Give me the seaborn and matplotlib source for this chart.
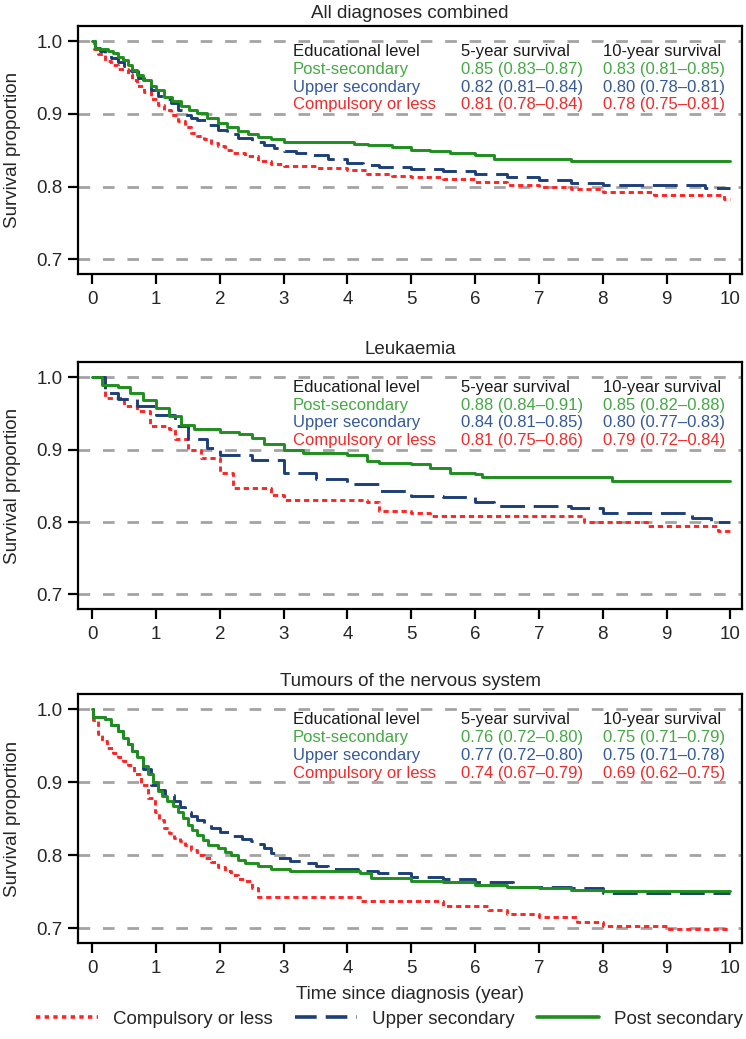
import matplotlib
matplotlib.use("Agg")
import matplotlib.pyplot as plt
from matplotlib.lines import Line2D
import seaborn as sns
import pandas as pd

# Kaplan-Meier step curves (time in years, survival proportion)
all_post_t = [0, 0.05, 0.1, 0.25, 0.33, 0.4, 0.48, 0.56, 0.63, 0.71, 0.8, 0.92, 1.0, 1.13, 1.25, 1.39, 1.52, 1.65, 1.8, 1.97, 2.12, 2.28, 2.45, 2.6, 2.8, 3.01, 3.53, 4.1, 4.32, 4.7, 5.0, 5.3, 5.6, 6.0, 6.3, 7.5, 10.0]
all_post_s = [1.0, 0.991, 0.989, 0.987, 0.984, 0.979, 0.974, 0.968, 0.961, 0.954, 0.947, 0.938, 0.933, 0.924, 0.918, 0.911, 0.906, 0.901, 0.895, 0.888, 0.882, 0.876, 0.872, 0.869, 0.865, 0.862, 0.861, 0.859, 0.857, 0.854, 0.851, 0.849, 0.847, 0.844, 0.838, 0.835, 0.835]
all_upper_t = [0, 0.04, 0.12, 0.2, 0.3, 0.4, 0.5, 0.61, 0.72, 0.82, 0.92, 1.03, 1.14, 1.24, 1.35, 1.45, 1.55, 1.65, 1.8, 1.97, 2.12, 2.28, 2.5, 2.7, 2.85, 3.01, 3.2, 3.43, 3.7, 4.0, 4.25, 4.5, 5.0, 5.5, 6.0, 6.5, 7.0, 7.5, 8.0, 9.6, 10.0]
all_upper_s = [1.0, 0.991, 0.987, 0.982, 0.977, 0.971, 0.966, 0.959, 0.95, 0.941, 0.933, 0.925, 0.92, 0.915, 0.906, 0.899, 0.895, 0.892, 0.885, 0.878, 0.872, 0.867, 0.862, 0.858, 0.853, 0.849, 0.846, 0.843, 0.838, 0.833, 0.83, 0.827, 0.825, 0.822, 0.818, 0.813, 0.809, 0.805, 0.803, 0.798, 0.798]
all_comp_t = [0, 0.03, 0.1, 0.2, 0.3, 0.4, 0.56, 0.63, 0.71, 0.82, 0.92, 1.03, 1.13, 1.24, 1.34, 1.45, 1.55, 1.65, 1.76, 1.87, 1.97, 2.08, 2.18, 2.39, 2.6, 2.8, 3.0, 3.5, 4.0, 4.3, 4.7, 5.0, 5.5, 6.0, 6.5, 7.0, 7.5, 8.0, 8.8, 9.9, 10.0]
all_comp_s = [1.0, 0.989, 0.982, 0.973, 0.967, 0.962, 0.955, 0.947, 0.939, 0.93, 0.921, 0.913, 0.905, 0.898, 0.891, 0.882, 0.874, 0.87, 0.865, 0.86, 0.856, 0.851, 0.847, 0.842, 0.836, 0.831, 0.828, 0.826, 0.823, 0.818, 0.815, 0.813, 0.811, 0.806, 0.803, 0.8, 0.797, 0.793, 0.789, 0.783, 0.783]

leuk_post_t = [0, 0.15, 0.4, 0.6, 0.8, 1.0, 1.2, 1.4, 1.6, 2.0, 2.3, 2.5, 2.7, 3.0, 3.3, 4.0, 4.3, 4.5, 5.0, 5.3, 5.6, 6.0, 6.1, 8.15, 10.0]
leuk_post_s = [1.0, 0.989, 0.987, 0.978, 0.969, 0.957, 0.946, 0.934, 0.929, 0.925, 0.921, 0.916, 0.908, 0.9, 0.895, 0.892, 0.884, 0.882, 0.88, 0.874, 0.868, 0.866, 0.862, 0.857, 0.856]
leuk_upper_t = [0, 0.2, 0.4, 0.7, 1.0, 1.3, 1.5, 1.8, 2.0, 2.5, 3.0, 3.5, 4.0, 4.5, 5.0, 5.5, 6.0, 6.3, 7.5, 8.0, 9.0, 9.4, 9.7, 10.0]
leuk_upper_s = [1.0, 0.978, 0.97, 0.96, 0.948, 0.932, 0.914, 0.902, 0.893, 0.886, 0.868, 0.859, 0.852, 0.843, 0.836, 0.834, 0.827, 0.822, 0.82, 0.813, 0.813, 0.806, 0.8, 0.8]
leuk_comp_t = [0, 0.2, 0.5, 0.7, 0.9, 1.2, 1.3, 1.5, 1.7, 2.0, 2.2, 2.8, 3.0, 4.3, 4.5, 5.0, 5.3, 7.7, 8.7, 9.8, 10.0]
leuk_comp_s = [1.0, 0.971, 0.96, 0.953, 0.932, 0.928, 0.914, 0.9, 0.889, 0.868, 0.847, 0.838, 0.831, 0.828, 0.815, 0.812, 0.809, 0.8, 0.795, 0.788, 0.786]

cns_post_t = [0, 0.02, 0.2, 0.3, 0.4, 0.48, 0.56, 0.63, 0.71, 0.79, 0.87, 0.95, 1.03, 1.1, 1.18, 1.26, 1.34, 1.42, 1.5, 1.57, 1.65, 1.73, 1.81, 1.97, 2.08, 2.18, 2.28, 2.39, 2.6, 2.81, 3.1, 3.43, 4.2, 4.37, 5.0, 5.5, 6.0, 6.5, 7.0, 7.5, 8.0, 10.0]
cns_post_s = [1.0, 0.989, 0.987, 0.979, 0.97, 0.961, 0.952, 0.943, 0.934, 0.922, 0.911, 0.9, 0.888, 0.881, 0.874, 0.867, 0.86, 0.851, 0.842, 0.835, 0.828, 0.821, 0.814, 0.81, 0.805, 0.8, 0.794, 0.789, 0.785, 0.782, 0.779, 0.778, 0.776, 0.769, 0.765, 0.763, 0.759, 0.756, 0.755, 0.753, 0.751, 0.751]
cns_upper_t = [0, 0.02, 0.2, 0.3, 0.4, 0.48, 0.56, 0.63, 0.71, 0.8, 0.92, 1.03, 1.15, 1.29, 1.37, 1.45, 1.55, 1.65, 1.75, 1.86, 2.0, 2.18, 2.35, 2.49, 2.6, 2.7, 2.8, 2.91, 3.1, 3.27, 3.5, 3.69, 4.16, 4.48, 5.0, 5.5, 6.0, 6.6, 7.5, 8.0, 10.0]
cns_upper_s = [1.0, 0.989, 0.987, 0.979, 0.97, 0.961, 0.952, 0.943, 0.932, 0.918, 0.897, 0.889, 0.882, 0.874, 0.866, 0.86, 0.854, 0.849, 0.843, 0.837, 0.832, 0.826, 0.822, 0.819, 0.815, 0.81, 0.803, 0.796, 0.792, 0.789, 0.785, 0.782, 0.778, 0.776, 0.77, 0.767, 0.764, 0.757, 0.755, 0.749, 0.749]
cns_comp_t = [0, 0.02, 0.09, 0.16, 0.24, 0.32, 0.4, 0.48, 0.56, 0.66, 0.77, 0.87, 0.98, 1.05, 1.13, 1.21, 1.29, 1.37, 1.45, 1.55, 1.65, 1.76, 1.86, 1.97, 2.08, 2.18, 2.28, 2.39, 2.5, 2.6, 4.2, 5.5, 6.2, 6.5, 7.0, 7.6, 8.0, 9.0, 10.0]
cns_comp_s = [1.0, 0.986, 0.966, 0.956, 0.947, 0.94, 0.934, 0.929, 0.924, 0.911, 0.897, 0.879, 0.86, 0.848, 0.837, 0.83, 0.824, 0.819, 0.814, 0.807, 0.8, 0.796, 0.791, 0.784, 0.778, 0.773, 0.768, 0.765, 0.755, 0.743, 0.737, 0.731, 0.725, 0.72, 0.716, 0.709, 0.703, 0.699, 0.698]

panel_titles = ["All diagnoses combined", "Leukaemia", "Tumours of the nervous system"]
groups = ["Post-secondary", "Upper secondary", "Compulsory or less"]
legend_labels = ["Compulsory or less", "Upper secondary", "Post secondary"]
surv5 = [
    ["0.85 (0.83\u20130.87)", "0.82 (0.81\u20130.84)", "0.81 (0.78\u20130.84)"],
    ["0.88 (0.84\u20130.91)", "0.84 (0.81\u20130.85)", "0.81 (0.75\u20130.86)"],
    ["0.76 (0.72\u20130.80)", "0.77 (0.72\u20130.80)", "0.74 (0.67\u20130.79)"],
]
surv10 = [
    ["0.83 (0.81\u20130.85)", "0.80 (0.78\u20130.81)", "0.78 (0.75\u20130.81)"],
    ["0.85 (0.82\u20130.88)", "0.80 (0.77\u20130.83)", "0.79 (0.72\u20130.84)"],
    ["0.75 (0.71\u20130.79)", "0.75 (0.71\u20130.78)", "0.69 (0.62\u20130.75)"],
]
x_ticks = list(range(0, 11))
y_ticks = [0.7, 0.8, 0.9, 1.0]

curves = [
    [(all_comp_t, all_comp_s), (all_upper_t, all_upper_s), (all_post_t, all_post_s)],
    [(leuk_comp_t, leuk_comp_s), (leuk_upper_t, leuk_upper_s), (leuk_post_t, leuk_post_s)],
    [(cns_comp_t, cns_comp_s), (cns_upper_t, cns_upper_s), (cns_post_t, cns_post_s)],
]

line_colors = ["#ff2424", "#1d3f78", "#1e8f1e"]
line_styles = [(0, (1.8, 1.3)), (0, (8.5, 3.0)), "-"]
text_colors = ["#45a845", "#34599a", "#f02a2a"]

sns.set_style("white")
plt.rcParams["font.family"] = ["Liberation Sans", "DejaVu Sans"]

fig = plt.figure(figsize=(7.46, 10.39), dpi=100)
axes_rects = [
    [0.1046, 0.7363, 0.890, 0.2387],
    [0.1046, 0.4139, 0.890, 0.2377],
    [0.1046, 0.0924, 0.890, 0.2397],
]

for i, rect in enumerate(axes_rects):
    ax = fig.add_axes(rect)
    ax.set_xlim(-0.22, 10.18)
    ax.set_ylim(0.68, 1.021)
    ax.set_yticks(y_ticks)
    ax.set_yticklabels([f"{v:.1f}" for v in y_ticks])
    ax.set_xticks(x_ticks)
    ax.grid(axis="y", color="#a3a3a3", linestyle=(0, (4.2, 4.6)), linewidth=2.0)
    ax.grid(axis="x", visible=False)
    ax.set_axisbelow(True)

    for (t, s), col, ls in zip(curves[i], line_colors, line_styles):
        df = pd.DataFrame({"time": t, "surv": s})
        sns.lineplot(data=df, x="time", y="surv", ax=ax, estimator=None, sort=False,
                     drawstyle="steps-post", color=col, linestyle=ls, linewidth=2.1)

    for sp in ax.spines.values():
        sp.set_visible(True)
        sp.set_color("black")
        sp.set_linewidth(1.6)
    ax.tick_params(axis="both", direction="out", length=7.5, width=1.6, color="black",
                   labelsize=13.5, left=True, bottom=True)
    ax.tick_params(axis="y", pad=3.5)
    ax.tick_params(axis="x", pad=5)
    ax.set_ylabel("Survival proportion", fontsize=13.5, labelpad=11)
    if i == 2:
        ax.set_xlabel("Time since diagnosis (year)", fontsize=13.5, labelpad=6)
    else:
        ax.set_xlabel("")
    ax.set_title(panel_titles[i], fontsize=13.5, pad=6)

    # survival table in the top right corner
    row_y = [0.986, 0.9615, 0.937, 0.9125]
    col_x = [3.14, 5.775, 8.0]
    ax.text(col_x[0], row_y[0], "Educational level", fontsize=12, color="#1a1a1a", va="center")
    ax.text(col_x[1], row_y[0], "5-year survival", fontsize=12, color="#1a1a1a", va="center")
    ax.text(col_x[2], row_y[0], "10-year survival", fontsize=12, color="#1a1a1a", va="center")
    for j in range(3):
        ax.text(col_x[0], row_y[j + 1], groups[j], fontsize=12, color=text_colors[j], va="center")
        ax.text(col_x[1], row_y[j + 1], surv5[i][j], fontsize=12, color=text_colors[j], va="center")
        ax.text(col_x[2], row_y[j + 1], surv10[i][j], fontsize=12, color=text_colors[j], va="center")

handles = [Line2D([], [], color=c, linestyle=ls, linewidth=2.6)
           for c, ls in zip(line_colors, [(0, (1.2, 1.2)), (0, (6.0, 2.5)), "-"])]
fig.legend(handles, legend_labels, loc="center", bbox_to_anchor=(0.522, 1 - 1019 / 1039),
           ncol=3, frameon=False, fontsize=13.5, handlelength=3.3, handletextpad=0.8,
           columnspacing=1.2)

fig.savefig("out.png", dpi=100)
